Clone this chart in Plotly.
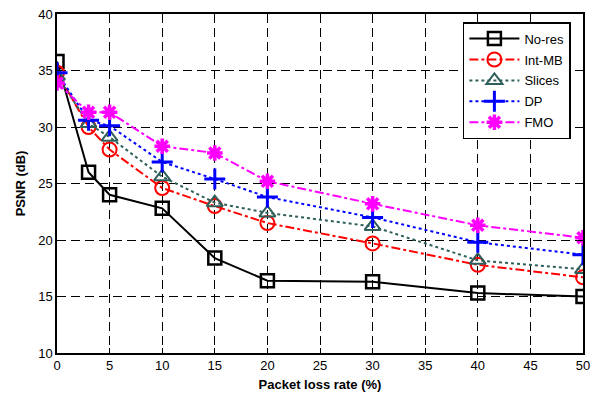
import plotly.graph_objects as go

# Packet loss rate (%) and PSNR (dB) per error-resilience scheme
loss_rate = [0, 3, 5, 10, 15, 20, 30, 40, 50]
no_res = [35.8, 26.0, 24.0, 22.8, 18.4, 16.4, 16.3, 15.3, 15.0]
int_mb = [34.8, 30.0, 28.0, 24.6, 23.0, 21.5, 19.7, 17.8, 16.7]
slices = [34.5, 30.3, 29.1, 25.6, 23.3, 22.4, 21.2, 18.2, 17.4]
dp = [34.8, 30.6, 30.1, 26.9, 25.4, 23.8, 22.0, 19.8, 18.7]
fmo = [33.9, 31.3, 31.3, 28.3, 27.7, 25.2, 23.2, 21.3, 20.2]

x_ticks = list(range(0, 51, 5))
y_ticks = list(range(10, 41, 5))

series = [
    ("No-res", no_res, "black", "solid", "square-open", 13, 2.5),
    ("Int-MB", int_mb, "red", "dashdot", "circle-open", 14, 2),
    ("Slices", slices, "#2F5F5A", "dot", "triangle-up-open", 14, 2),
    ("DP", dp, "blue", "dot", "cross-thin-open", 15, 3),
    ("FMO", fmo, "magenta", "dashdot", "asterisk-open", 13, 3.5),
]

fig = go.Figure()
for name, vals, color, dash, symbol, size, mlw in series:
    fig.add_trace(go.Scatter(
        x=loss_rate, y=vals, name=name, mode="lines+markers",
        legendgroup=name,
        line=dict(color=color, width=2, dash=dash),
        marker=dict(symbol=symbol, size=size, color=color,
                    line=dict(color=color, width=mlw)),
    ))

font_main = dict(family="Liberation Sans, Arial", size=13, color="black")

axis_common = dict(
    showline=True, linecolor="black", linewidth=1.5, mirror="ticks",
    ticks="inside", ticklen=5, tickcolor="black",
    showgrid=True, gridcolor="black", griddash="9px,5px", gridwidth=1,
    zeroline=False, automargin=False,
    tickfont=font_main,
)

fig.update_layout(
    width=596, height=398,
    margin=dict(l=57, r=13, t=14, b=45),
    paper_bgcolor="white", plot_bgcolor="white",
    xaxis=dict(range=[0, 50], tickvals=x_ticks,
               title=dict(text="<b>Packet loss rate (%)</b>", standoff=8, font=font_main),
               **axis_common),
    yaxis=dict(range=[10, 40], tickvals=y_ticks,
               title=dict(text="<b>PSNR (dB)</b>", standoff=10, font=font_main),
               **axis_common),
    legend=dict(x=0.977, y=0.976, xanchor="right", yanchor="top",
                bgcolor="white", bordercolor="black", borderwidth=1.5,
                font=font_main, tracegroupgap=1, itemwidth=50),
)

fig.write_html("out.html")
